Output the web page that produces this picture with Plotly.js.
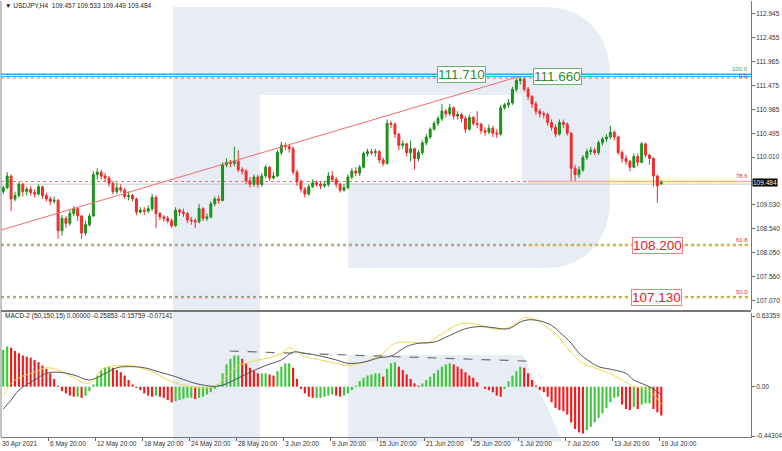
<!DOCTYPE html>
<html><head><meta charset="utf-8">
<script src="https://cdn.plot.ly/plotly-3.0.1.min.js"></script>
<style>html,body{margin:0;padding:0;background:#fff}#c{width:782px;height:451px}</style>
</head><body><div id="c"></div>
<script>
// ---- data (H4 chart read at ~8h resolution, candle index 0..168) ----
const openP = [109.30,109.38,109.62,109.15,109.22,109.45,109.30,109.35,109.28,109.25,
 109.40,109.22,109.15,109.10,109.12,108.50,108.75,108.65,108.85,108.95,
 108.80,108.45,108.62,108.80,109.65,109.70,109.62,109.58,109.47,109.30,
 109.38,109.33,109.20,109.22,109.15,108.88,108.92,108.90,108.95,109.18,
 108.85,108.78,108.75,108.70,108.60,108.92,108.88,108.85,108.72,108.70,
 108.68,108.95,108.75,108.78,109.05,109.15,109.12,109.85,109.90,109.88,
 109.92,109.75,109.72,109.52,109.45,109.60,109.45,109.62,109.80,109.58,
 109.62,110.10,110.25,110.22,110.18,109.70,109.50,109.35,109.25,109.40,
 109.48,109.45,109.42,109.45,109.62,109.55,109.45,109.33,109.38,109.60,
 109.72,109.68,109.80,110.08,110.12,110.10,110.12,109.95,109.88,110.70,
 110.68,110.48,110.25,110.28,110.10,110.18,109.98,110.10,110.30,110.42,
 110.58,110.70,110.80,110.95,110.90,111.02,110.85,110.88,110.80,110.58,
 110.82,110.70,110.68,110.55,110.52,110.60,110.50,110.48,111.02,111.08,
 111.12,111.40,111.58,111.60,111.40,111.25,111.10,110.95,110.90,110.88,
 110.72,110.62,110.48,110.72,110.68,110.50,109.78,109.65,109.75,110.00,
 110.12,110.15,110.10,110.30,110.38,110.42,110.52,110.42,110.10,109.98,
 109.92,109.80,110.02,109.90,110.28,110.05,109.98,109.62,109.457];
const highP = [109.42,109.70,109.65,109.30,109.50,109.48,109.40,109.42,109.35,109.45,
 109.42,109.28,109.20,109.20,109.15,108.82,108.80,108.92,109.00,108.98,
 108.82,108.70,108.85,109.72,109.78,109.75,109.68,109.62,109.52,109.48,
 109.45,109.38,109.30,109.25,109.18,108.98,108.98,109.02,109.25,109.22,
 108.88,108.82,108.80,108.75,108.98,108.95,108.95,108.88,108.78,108.75,
 109.05,108.98,108.85,109.10,109.20,109.22,109.90,109.98,109.95,110.22,
 110.15,109.80,109.76,109.60,109.65,109.65,109.68,109.85,109.82,109.70,
 110.15,110.32,110.30,110.28,110.22,109.75,109.55,109.40,109.45,109.55,
 109.52,109.50,109.52,109.70,109.72,109.60,109.48,109.45,109.65,109.78,
 109.80,109.85,110.12,110.18,110.18,110.18,110.15,110.00,110.78,110.75,
 110.72,110.50,110.35,110.30,110.35,110.20,110.15,110.35,110.48,110.62,
 110.75,110.85,111.10,111.00,111.10,111.05,110.95,110.92,110.85,110.88,
 110.85,110.95,110.72,110.62,110.68,110.65,110.58,111.08,111.12,111.20,
 111.45,111.62,111.66,111.65,111.45,111.28,111.15,111.00,110.95,110.92,
 110.78,110.68,110.78,110.78,110.72,110.52,109.85,109.82,110.05,110.18,
 110.22,110.20,110.35,110.42,110.48,110.65,110.55,110.45,110.15,110.05,
 109.95,110.08,110.08,110.32,110.30,110.08,110.00,109.65,109.533];
const lowP = [109.25,109.35,108.90,109.10,109.18,109.20,109.22,109.22,109.18,109.22,
 109.15,109.10,109.02,109.05,108.33,108.40,108.55,108.60,108.80,108.70,
 108.33,108.40,108.58,108.78,109.55,109.55,109.50,109.40,109.25,109.25,
 109.28,109.15,109.12,109.10,108.82,108.85,108.82,108.86,108.90,108.55,
 108.72,108.68,108.65,108.55,108.58,108.80,108.78,108.65,108.62,108.55,
 108.65,108.70,108.70,108.75,109.00,109.05,109.10,109.80,109.80,109.82,
 109.70,109.65,109.45,109.38,109.40,109.38,109.40,109.58,109.52,109.55,
 109.60,110.05,110.15,110.10,109.65,109.42,109.28,109.18,109.22,109.38,
 109.40,109.35,109.38,109.40,109.50,109.38,109.28,109.30,109.35,109.55,
 109.62,109.62,109.78,110.02,110.05,110.02,109.88,109.82,109.85,110.60,
 110.40,110.15,110.18,110.02,109.92,109.75,109.92,110.05,110.25,110.38,
 110.55,110.65,110.75,110.82,110.85,110.78,110.78,110.72,110.50,110.55,
 110.65,110.60,110.48,110.45,110.48,110.42,110.40,110.45,110.98,111.02,
 111.08,111.35,111.50,111.35,111.18,111.02,110.88,110.82,110.80,110.65,
 110.55,110.42,110.45,110.60,110.45,109.52,109.52,109.58,109.70,109.95,
 110.05,110.05,110.05,110.25,110.32,110.38,110.35,110.05,109.90,109.85,
 109.72,109.78,109.82,109.88,110.00,109.85,109.40,109.07,109.449];
const closeP = [109.38,109.62,109.15,109.22,109.45,109.30,109.35,109.28,109.25,109.40,
 109.22,109.15,109.10,109.12,108.50,108.75,108.65,108.85,108.95,108.80,
 108.45,108.62,108.80,109.65,109.70,109.62,109.58,109.47,109.30,109.38,
 109.33,109.20,109.22,109.15,108.88,108.92,108.90,108.95,109.18,108.85,
 108.78,108.75,108.70,108.60,108.92,108.88,108.85,108.72,108.70,108.68,
 108.95,108.75,108.78,109.05,109.15,109.12,109.85,109.90,109.88,109.92,
 109.75,109.72,109.52,109.45,109.60,109.45,109.62,109.80,109.58,109.62,
 110.10,110.25,110.22,110.18,109.70,109.50,109.35,109.25,109.40,109.48,
 109.45,109.42,109.45,109.62,109.55,109.45,109.33,109.38,109.60,109.72,
 109.68,109.80,110.08,110.12,110.10,110.12,109.95,109.88,110.70,110.68,
 110.48,110.25,110.28,110.10,110.18,109.98,110.10,110.30,110.42,110.58,
 110.70,110.80,110.95,110.90,111.02,110.85,110.88,110.80,110.58,110.82,
 110.70,110.68,110.55,110.52,110.60,110.50,110.48,111.02,111.08,111.12,
 111.40,111.58,111.60,111.40,111.25,111.10,110.95,110.90,110.88,110.72,
 110.62,110.48,110.72,110.68,110.50,109.78,109.65,109.75,110.00,110.12,
 110.15,110.10,110.30,110.38,110.42,110.52,110.42,110.10,109.98,109.92,
 109.80,110.02,109.90,110.28,110.05,109.98,109.62,109.42,109.484];

const macdHist = [0.33,0.36,0.35,0.32,0.30,0.28,0.27,0.26,0.24,0.22,
 0.19,0.16,0.12,0.07,0.01,-0.04,-0.06,-0.08,-0.09,-0.09,
 -0.10,-0.08,-0.04,0.02,0.10,0.15,0.17,0.18,0.17,0.15,
 0.13,0.10,0.06,0.02,-0.01,-0.03,-0.06,-0.08,-0.09,-0.08,
 -0.09,-0.10,-0.12,-0.14,-0.13,-0.12,-0.11,-0.10,-0.10,-0.11,
 -0.10,-0.09,-0.07,-0.05,-0.02,0.02,0.12,0.20,0.25,0.28,
 0.28,0.25,0.21,0.17,0.14,0.12,0.12,0.12,0.11,0.10,
 0.14,0.18,0.21,0.21,0.17,0.07,-0.02,-0.06,-0.09,-0.10,
 -0.10,-0.10,-0.09,-0.08,-0.07,-0.08,-0.09,-0.08,-0.06,-0.03,
 0.01,0.05,0.08,0.10,0.11,0.12,0.12,0.09,0.16,0.21,
 0.22,0.18,0.15,0.11,0.07,0.03,0.01,0.03,0.06,0.09,
 0.12,0.15,0.18,0.20,0.21,0.20,0.18,0.16,0.13,0.10,
 0.08,0.04,0.00,-0.02,-0.03,-0.05,-0.08,-0.09,-0.02,0.05,
 0.10,0.14,0.18,0.17,0.12,0.06,0.01,-0.03,-0.05,-0.09,
 -0.14,-0.19,-0.21,-0.22,-0.25,-0.32,-0.38,-0.41,-0.42,-0.39,
 -0.36,-0.32,-0.28,-0.24,-0.19,-0.14,-0.10,-0.09,-0.16,-0.20,
 -0.21,-0.18,-0.20,-0.16,-0.15,-0.15,-0.20,-0.23,-0.25853];

const fastIdx = [0,2,4,8,11,13,16,18,21,23,25,27,30,33,35,39,42,46,50,53,55,58,60,63,65,68,71,73,75,77,81,85,88,92,96,97,100,104,108,111,115,118,122,125,128,131,133,136,138,141,143,146,148,151,154,156,159,161,164,166,168];
const fastLine = [-0.08,0.03,0.08,0.13,0.17,0.16,0.12,0.08,0.03,0.05,0.15,0.18,0.19,0.19,0.17,0.12,0.06,0.015,-0.01,-0.005,0.03,0.13,0.19,0.22,0.24,0.26,0.30,0.35,0.31,0.27,0.24,0.21,0.19,0.22,0.28,0.30,0.39,0.40,0.39,0.45,0.54,0.57,0.55,0.52,0.52,0.57,0.62,0.60,0.55,0.48,0.39,0.27,0.21,0.17,0.13,0.10,0.04,0.00,-0.02,-0.07,-0.15759];
const slowIdx = [0,2,4,8,11,14,18,22,25,29,32,36,40,44,48,51,55,59,63,67,71,74,77,81,85,88,92,96,99,103,106,110,114,118,122,125,129,132,134,137,140,142,145,147,150,152,156,159,161,164,166,168];
const slowLine = [-0.20,-0.12,-0.03,0.06,0.12,0.13,0.105,0.06,0.10,0.17,0.18,0.17,0.13,0.09,0.04,0.015,0.005,0.06,0.13,0.19,0.24,0.31,0.30,0.275,0.24,0.21,0.22,0.26,0.275,0.36,0.39,0.40,0.46,0.52,0.54,0.53,0.52,0.58,0.60,0.59,0.55,0.49,0.39,0.30,0.22,0.18,0.15,0.12,0.06,0.015,-0.02,-0.07141];

const tickIdx = [-0.5,11.5,23.5,35.5,47.5,59.5,71.5,83.5,95.5,107.5,119.5,131.5,143.5,155.5,167.5];
const tickLabels = ["30 Apr 2021","6 May 20:00","12 May 20:00","18 May 20:00","24 May 20:00","28 May 20:00","3 Jun 20:00","9 Jun 20:00","15 Jun 20:00","21 Jun 20:00","25 Jun 20:00","1 Jul 20:00","7 Jul 20:00","13 Jul 20:00","19 Jul 20:00"];
const priceTicks = [112.945,112.455,111.965,111.475,110.985,110.495,110.010,109.030,108.540,108.050,107.560,107.070];
const macdTicks = [0.63359,0,-0.44304];
const macdTickText = ["0.63359","0.00","-0.44304"];

const trendX = [-0.6,131.6], trendY = [108.51,111.66];
const macdTrendX = [57.8,133.6], macdTrendY = [0.32,0.23];
const fibLevels = [111.71,111.66,109.508,108.20,107.13];
const fibNames = ["100.0","0.0","78.6","61.8","50.0"];
const boxLabels = ["111.710","111.660","108.200","107.130"];
const boxIdx = [117.1,141.6,167.0,166.7];
const boxPrice = [111.71,111.66,108.20,107.13];
const lastPrice = 109.484;
const header = "\u25BC USDJPY,H4  109.457 109.533 109.449 109.484";
const macdHeader = "MACD-2 (50,150,15) 0.00000 -0.25853 -0.15759 -0.07141";

// ---- build ----
const N = closeP.length;
const idx = Array.from({length:N},(_,i)=>i);
const histColors = macdHist.map((v,i)=> (i===0 || v>=macdHist[i-1]) ? '#3fc83f' : '#f21c1c');

const FONT = 'Liberation Sans, Arial, sans-serif';
const traces = [
 {type:'candlestick', x:idx, open:openP, high:highP, low:lowP, close:closeP, xaxis:'x', yaxis:'y',
  increasing:{line:{color:'#168c16',width:1}, fillcolor:'#1f9e1f'},
  decreasing:{line:{color:'#ec2a2a',width:1}, fillcolor:'#f03232'},
  whiskerwidth:0, hoverinfo:'skip', showlegend:false},
 {type:'bar', x:idx, y:macdHist, marker:{color:histColors, line:{width:0}}, xaxis:'x', yaxis:'y2', hoverinfo:'skip', showlegend:false},
 {type:'scatter', mode:'lines', x:fastIdx, y:fastLine, line:{color:'#f5d64a',width:1,shape:'spline'}, xaxis:'x', yaxis:'y2', hoverinfo:'skip', showlegend:false},
 {type:'scatter', mode:'lines', x:slowIdx, y:slowLine, line:{color:'#555555',width:1,shape:'spline'}, xaxis:'x', yaxis:'y2', hoverinfo:'skip', showlegend:false}
];

// watermark (paper coords from pixel geometry)
const PX = p => (p-1)/750, PY = p => (437-p)/436;
const wm = '#e8edf5';
const bowl = `M ${PX(260)},${PY(7)} L ${PX(545)},${PY(7)} C ${PX(585)},${PY(7)} ${PX(610)},${PY(35)} ${PX(610)},${PY(75)} L ${PX(610)},${PY(200)} C ${PX(610)},${PY(240)} ${PX(585)},${PY(268)} ${PX(545)},${PY(268)} L ${PX(348)},${PY(268)} L ${PX(348)},${PY(183)} L ${PX(522)},${PY(183)} L ${PX(522)},${PY(95)} L ${PX(260)},${PY(95)} Z`;
const leg = `M ${PX(348)},${PY(355)} L ${PX(523)},${PY(355)} L ${PX(563)},${PY(442)} L ${PX(348)},${PY(442)} Z`;
const shapes = [
 {type:'rect', xref:'paper', yref:'paper', x0:PX(173), x1:PX(260), y0:PY(442), y1:PY(7), fillcolor:wm, line:{width:0}, layer:'below'},
 {type:'path', xref:'paper', yref:'paper', path:bowl, fillcolor:wm, line:{width:0}, layer:'below'},
 {type:'path', xref:'paper', yref:'paper', path:leg, fillcolor:wm, line:{width:0}, layer:'below'},
 // frame
 {type:'line', xref:'paper', yref:'paper', x0:0, x1:0, y0:0, y1:1, line:{color:'#8a8a8a',width:1}},
 {type:'line', xref:'paper', yref:'paper', x0:0, x1:1, y0:PY(311), y1:PY(311), line:{color:'#777',width:2}},
 // level lines
 {type:'line', xref:'paper', yref:'y', x0:0, x1:1, y0:fibLevels[0], y1:fibLevels[0], line:{color:'#19b4e6',width:1.5}, layer:'below'},
 {type:'line', xref:'paper', yref:'y', x0:0, x1:1, y0:fibLevels[1], y1:fibLevels[1], line:{color:'#19b4e6',width:1}, layer:'below'},
 {type:'line', xref:'paper', yref:'y', x0:0, x1:1, y0:fibLevels[1]-0.03, y1:fibLevels[1]-0.03, line:{color:'#f07070',width:1,dash:'dot'}, layer:'below'},
 {type:'line', xref:'paper', yref:'y', x0:0, x1:1, y0:lastPrice-0.03, y1:lastPrice-0.03, line:{color:'#c8c8c8',width:1}, layer:'below'},
 {type:'line', xref:'paper', yref:'y', x0:0, x1:1, y0:fibLevels[2], y1:fibLevels[2], line:{color:'#f07070',width:1,dash:'dot'}, layer:'below'},
 {type:'line', xref:'x', yref:'y', x0:134, x1:191, y0:fibLevels[2], y1:fibLevels[2], line:{color:'#f5c518',width:1.5}, layer:'below'},
 {type:'line', xref:'paper', yref:'y', x0:0, x1:1, y0:fibLevels[3]+0.02, y1:fibLevels[3]+0.02, line:{color:'#60b060',width:1,dash:'dot'}, layer:'below'},
 {type:'line', xref:'paper', yref:'y', x0:0, x1:1, y0:fibLevels[3]-0.01, y1:fibLevels[3]-0.01, line:{color:'#f07070',width:1,dash:'dot'}, layer:'below'},
 {type:'line', xref:'x', yref:'y', x0:134, x1:191, y0:fibLevels[3], y1:fibLevels[3], line:{color:'#f5d040',width:1,dash:'dot'}, layer:'below'},
 {type:'line', xref:'paper', yref:'y', x0:0, x1:1, y0:fibLevels[4]+0.02, y1:fibLevels[4]+0.02, line:{color:'#60b060',width:1,dash:'dot'}, layer:'below'},
 {type:'line', xref:'paper', yref:'y', x0:0, x1:1, y0:fibLevels[4]-0.01, y1:fibLevels[4]-0.01, line:{color:'#f07070',width:1,dash:'dot'}, layer:'below'},
 {type:'line', xref:'x', yref:'y', x0:134, x1:191, y0:fibLevels[4], y1:fibLevels[4], line:{color:'#f5d040',width:1,dash:'dot'}, layer:'below'},
 // trend lines
 {type:'line', xref:'x', yref:'y', x0:trendX[0], x1:trendX[1], y0:trendY[0], y1:trendY[1], line:{color:'#f26b6b',width:1}},
 {type:'line', xref:'x', yref:'y2', x0:macdTrendX[0], x1:macdTrendX[1], y0:macdTrendY[0], y1:macdTrendY[1], line:{color:'#707070',width:1.2,dash:'dash'}}
];

const annotations = [
 {xref:'paper', yref:'paper', x:PX(3), y:PY(6), xanchor:'left', yanchor:'middle', text:header, showarrow:false, font:{family:FONT,size:6.5,color:'#222'}},
 {xref:'paper', yref:'paper', x:PX(3), y:PY(316), xanchor:'left', yanchor:'middle', text:macdHeader, showarrow:false, font:{family:FONT,size:6.5,color:'#222'}},
 {xref:'paper', yref:'y', x:1, y:lastPrice, xanchor:'left', yanchor:'middle', xshift:1, text:lastPrice.toFixed(3), showarrow:false, bgcolor:'#000', borderpad:0, font:{family:FONT,size:6.5,color:'#fff'}}
];
// date labels (MT4 style: text starts right of tick)
tickIdx.forEach((v,i)=>{
  annotations.push({xref:'x', yref:'paper', x:v, y:PY(443.5), xanchor:'left', yanchor:'middle', xshift:(i===0?-1:0), text:tickLabels[i], showarrow:false, font:{family:FONT,size:6.5,color:'#333'}});
});
const fibColors = ['#3a9a3a','#e03030','#e03030','#e03030','#e03030'];
fibNames.forEach((t,i)=>{
  annotations.push({xref:'paper', yref:'y', x:0.998, y:fibLevels[i], xanchor:'right', yanchor:'bottom', yshift:(i===1?-4:0), text:t, showarrow:false, font:{family:FONT,size:6,color:fibColors[i]}});
});
boxLabels.forEach((t,i)=>{
  const green = i<2;
  annotations.push({xref:'x', yref:'y', x:boxIdx[i], y:boxPrice[i], xanchor:'center', yanchor:'middle', text:t, showarrow:false,
    bgcolor:'#fff', bordercolor: green?'#6ab46a':'#f08080', borderwidth:1, borderpad:0,
    font:{family:'Liberation Sans, Arial, sans-serif', size:13.5, color: green?'#2e8b2e':'#e8191e'}});
});

const layout = {
 width:782, height:451, margin:{l:1,r:31,t:1,b:14,pad:0},
 paper_bgcolor:'#fff', plot_bgcolor:'rgba(0,0,0,0)', showlegend:false, bargap:0.45,
 font:{family:FONT,size:6.5,color:'#333'},
 xaxis:{type:'linear', range:[-0.577,190.91], anchor:'y2', domain:[0,1], showgrid:false, zeroline:false,
   tickmode:'array', tickvals:tickIdx.slice(1), ticks:'outside', ticklen:3, tickcolor:'#666', showticklabels:false,
   showline:true, linecolor:'#777', linewidth:1, rangeslider:{visible:false}, fixedrange:true},
 yaxis:{domain:[0.2913,1], range:[106.871,113.211], anchor:'x', side:'right', showgrid:false, zeroline:false,
   tickmode:'array', tickvals:priceTicks, ticktext:priceTicks.map(v=>v.toFixed(3)), ticks:'outside', ticklen:3, tickcolor:'#666',
   showline:true, linecolor:'#777', linewidth:1, tickfont:{family:FONT,size:6.5,color:'#333'}, fixedrange:true},
 yaxis2:{domain:[0,0.2844], range:[-0.451,0.661], anchor:'x', side:'right', showgrid:false, zeroline:false,
   tickmode:'array', tickvals:macdTicks, ticktext:macdTickText, ticks:'outside', ticklen:3, tickcolor:'#666',
   showline:true, linecolor:'#777', linewidth:1, tickfont:{family:FONT,size:6.5,color:'#333'}, fixedrange:true},
 shapes:shapes, annotations:annotations
};
Plotly.newPlot('c', traces, layout, {staticPlot:true, displayModeBar:false});
</script>
</body></html>
